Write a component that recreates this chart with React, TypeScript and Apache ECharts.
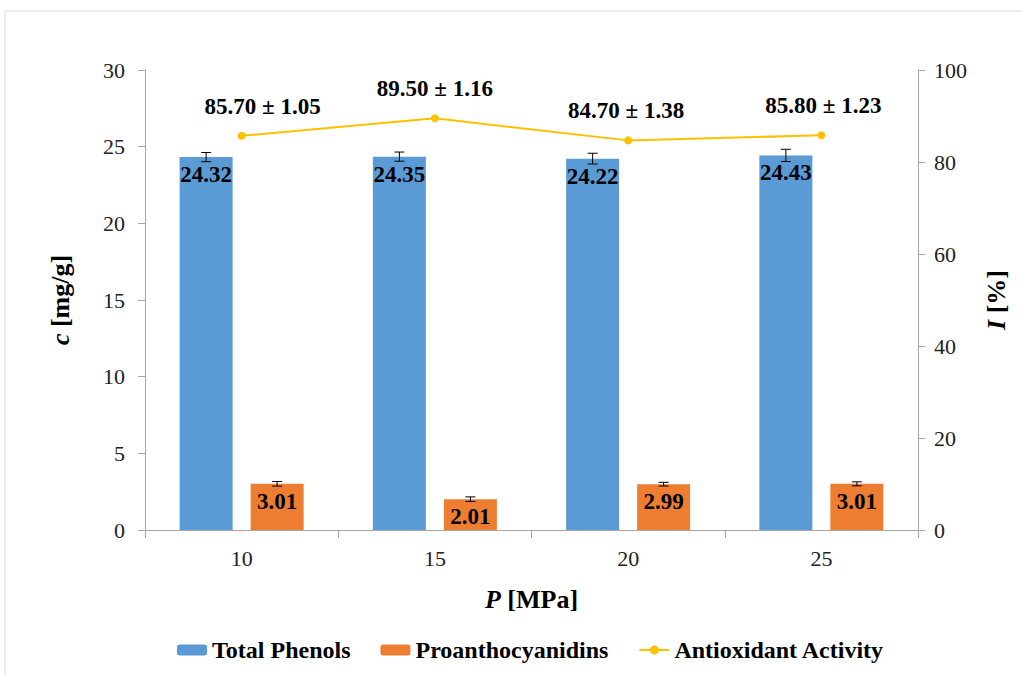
import React, { useEffect, useRef } from "react";
import * as echarts from "echarts";

const categories = ["10", "15", "20", "25"];
const totalPhenols = [24.32, 24.35, 24.22, 24.43];
const totalPhenolsErr = [0.3, 0.3, 0.35, 0.4];
const proantho = [3.01, 2.01, 2.99, 3.01];
const proanthoErr = [0.15, 0.15, 0.12, 0.13];
const antioxidant = [85.7, 89.5, 84.7, 85.8];
const antioxidantErr = [1.05, 1.16, 1.38, 1.23];

const FONT = "Liberation Serif";
const BAR_W = 53;
const OFFSET = 35.5;
const LABEL_SHIFT = [21, 0, -2, 2];

export default function App() {
  const ref = useRef<HTMLDivElement>(null);
  useEffect(() => {
    document.body.style.margin = "0";
    const chart = echarts.init(ref.current!, null, { renderer: "svg" });
    const errData = (vals: number[], errs: number[], sign: number) =>
      vals.map((v, i) => [i, v - errs[i], v + errs[i], sign]);
    const renderErr = (params: any, api: any) => {
      const idx = api.value(0);
      const sign = api.value(3);
      const x = api.coord([idx, 0])[0] + sign * OFFSET;
      const yLo = api.coord([idx, api.value(1)])[1];
      const yHi = api.coord([idx, api.value(2)])[1];
      const st = { stroke: "#000", lineWidth: 1 };
      return {
        type: "group",
        children: [
          { type: "line", shape: { x1: x, y1: yLo, x2: x, y2: yHi }, style: st },
          { type: "line", shape: { x1: x - 5, y1: yLo, x2: x + 5, y2: yLo }, style: st },
          { type: "line", shape: { x1: x - 5, y1: yHi, x2: x + 5, y2: yHi }, style: st },
        ],
      };
    };
    const nameStyle = {
      fontFamily: FONT,
      fontWeight: "bold",
      fontSize: 26,
      color: "#000",
      rich: { i: { fontFamily: FONT, fontWeight: "bold", fontStyle: "italic", fontSize: 26, color: "#000" } },
    };
    chart.setOption({
      animation: false,
      textStyle: { fontFamily: FONT },
      graphic: [
        {
          type: "rect",
          shape: { x: 5, y: 11, width: 1040, height: 700 },
          style: { fill: "none", stroke: "#d9d9d9", lineWidth: 1 },
          silent: true,
        },
      ],
      grid: { left: 145, right: 104, top: 70, bottom: 145 },
      legend: {
        top: 633,
        left: 172,
        itemWidth: 30,
        itemHeight: 11,
        itemGap: 30,
        textStyle: { fontFamily: FONT, fontWeight: "bold", fontSize: 24, color: "#000" },
        data: ["Total Phenols", "Proanthocyanidins", "Antioxidant Activity"],
      },
      xAxis: {
        type: "category",
        data: categories,
        name: "{i|P} [MPa]",
        nameLocation: "middle",
        nameGap: 56,
        nameTextStyle: nameStyle,
        axisLine: { lineStyle: { color: "#a6a6a6" } },
        axisTick: { show: true, length: 8, lineStyle: { color: "#a6a6a6" } },
        axisLabel: { fontFamily: FONT, fontSize: 22, color: "#222", margin: 17 },
      },
      yAxis: [
        {
          type: "value",
          min: 0,
          max: 30,
          interval: 5,
          name: "{i|c} [mg/g]",
          nameLocation: "middle",
          nameGap: 72,
          nameRotate: 90,
          nameTextStyle: nameStyle,
          axisLine: { show: true, lineStyle: { color: "#a6a6a6" } },
          axisTick: { show: true, length: 7, lineStyle: { color: "#a6a6a6" } },
          splitLine: { show: false },
          axisLabel: { fontFamily: FONT, fontSize: 22, color: "#222", margin: 20 },
        },
        {
          type: "value",
          min: 0,
          max: 100,
          interval: 20,
          name: "{i|I} [%]",
          nameLocation: "middle",
          nameGap: 65,
          nameRotate: 90,
          nameTextStyle: nameStyle,
          axisLine: { show: true, lineStyle: { color: "#a6a6a6" } },
          axisTick: { show: true, length: 7, lineStyle: { color: "#a6a6a6" } },
          splitLine: { show: false },
          axisLabel: { fontFamily: FONT, fontSize: 22, color: "#222", margin: 16 },
        },
      ],
      series: [
        {
          name: "Total Phenols",
          type: "bar",
          data: totalPhenols,
          barWidth: BAR_W,
          barGap: "34%",
          itemStyle: { color: "#5B9BD5" },
          label: {
            show: true,
            position: "insideTop",
            distance: 6,
            fontFamily: FONT,
            fontWeight: "bold",
            fontSize: 23,
            color: "#000",
            formatter: (p: any) => p.value.toFixed(2),
          },
        },
        {
          name: "Proanthocyanidins",
          type: "bar",
          data: proantho,
          barWidth: BAR_W,
          barGap: "34%",
          itemStyle: { color: "#ED7D31" },
          label: {
            show: true,
            position: "insideTop",
            distance: 6,
            fontFamily: FONT,
            fontWeight: "bold",
            fontSize: 23,
            color: "#000",
            formatter: (p: any) => p.value.toFixed(2),
          },
        },
        {
          name: "Antioxidant Activity",
          type: "line",
          yAxisIndex: 1,
          data: antioxidant.map((v, i) => ({ value: v, label: { offset: [LABEL_SHIFT[i], 0] } })),
          symbol: "circle",
          symbolSize: 8,
          lineStyle: { color: "#FFC000", width: 2 },
          itemStyle: { color: "#FFC000" },
          label: {
            show: true,
            position: "top",
            distance: 14,
            fontFamily: FONT,
            fontWeight: "bold",
            fontSize: 23,
            color: "#000",
            formatter: (p: any) =>
              p.value.toFixed(2) + " ± " + antioxidantErr[p.dataIndex].toFixed(2),
          },
        },
        {
          type: "custom",
          renderItem: renderErr,
          data: errData(totalPhenols, totalPhenolsErr, -1),
          encode: { x: 0, y: [1, 2] },
          z: 10,
          silent: true,
        },
        {
          type: "custom",
          renderItem: renderErr,
          data: errData(proantho, proanthoErr, 1),
          encode: { x: 0, y: [1, 2] },
          z: 10,
          silent: true,
        },
      ],
    });
    return () => chart.dispose();
  }, []);
  return <div ref={ref} style={{ width: 1022, height: 675 }} />;
}
